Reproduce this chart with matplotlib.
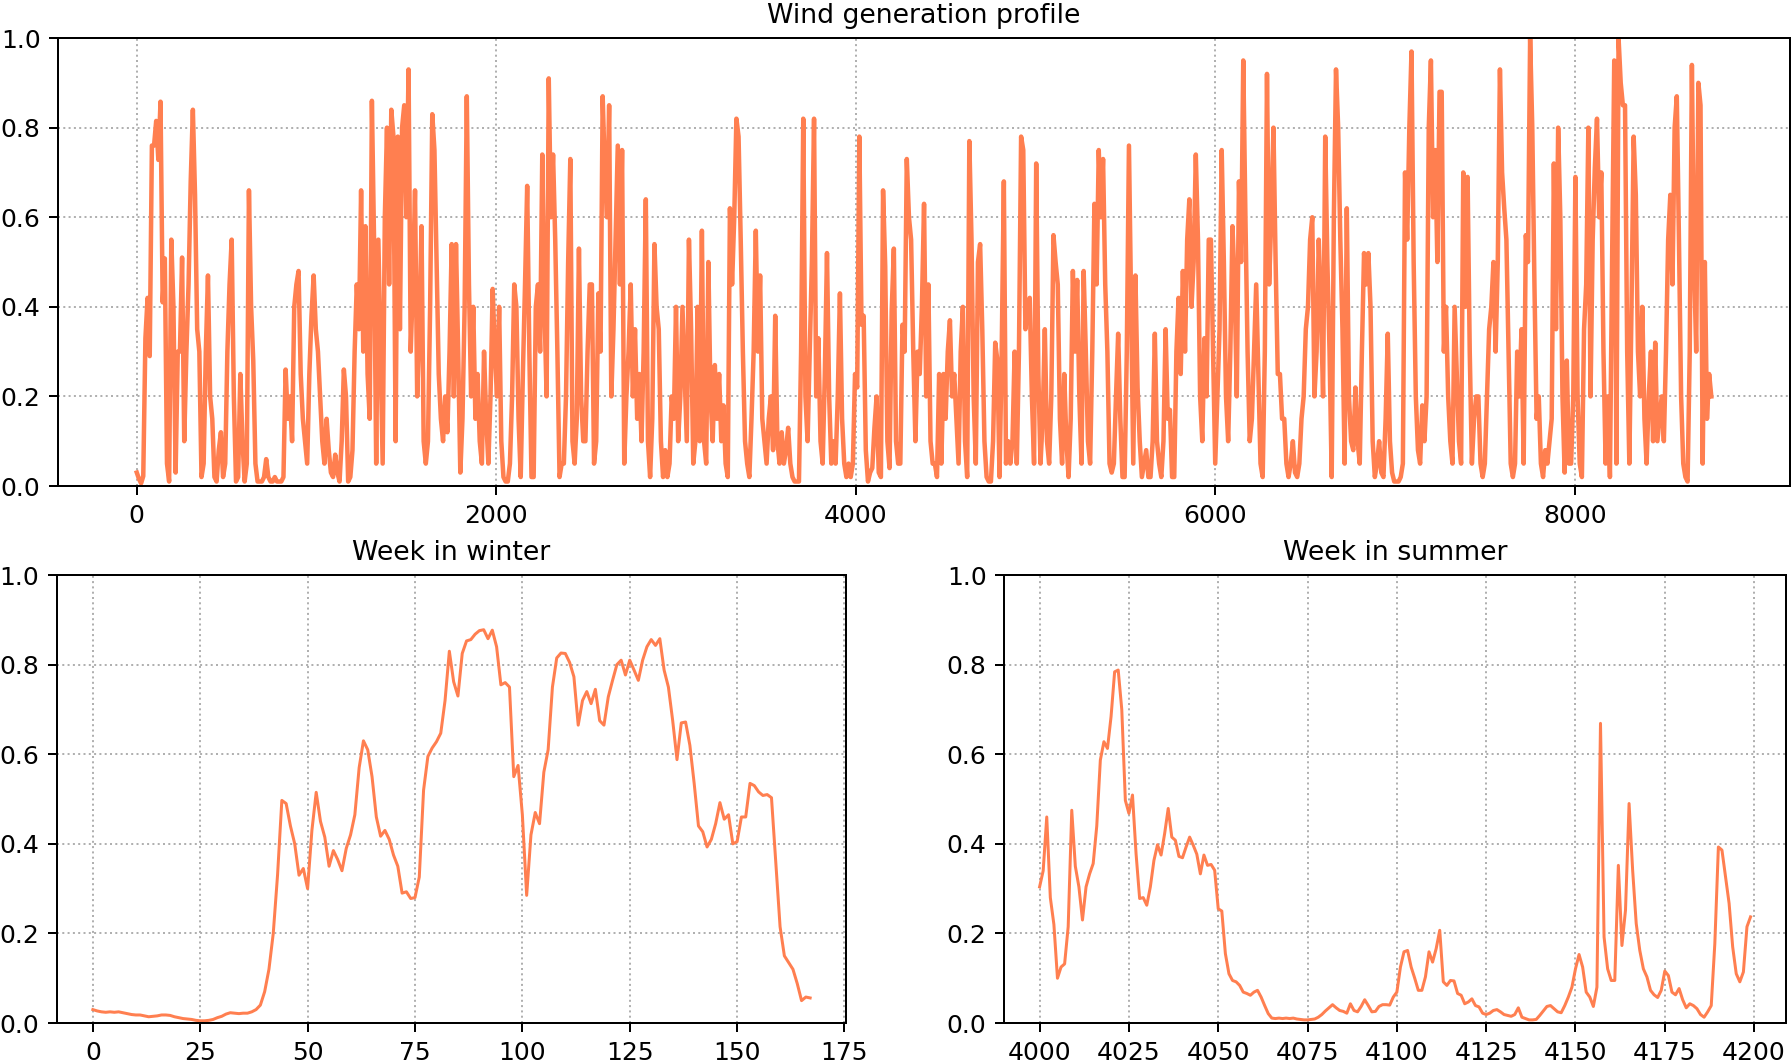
import numpy as np
import matplotlib
matplotlib.use('Agg')
import matplotlib.pyplot as plt

# yearly wind capacity factor, one value every 12 hours (0 ... 8760 h)
year_profile = [
    0.03, 0.016, 0.006, 0.022, 0.33, 0.42, 0.29, 0.76, 0.76, 0.815,
    0.728, 0.858, 0.41, 0.508, 0.05, 0.01, 0.55, 0.40, 0.03, 0.30,
    0.30, 0.51, 0.10, 0.30, 0.45, 0.68, 0.84, 0.65, 0.35, 0.30,
    0.02, 0.05, 0.30, 0.47, 0.20, 0.15, 0.02, 0.01, 0.08, 0.12,
    0.02, 0.05, 0.30, 0.45, 0.55, 0.20, 0.01, 0.02, 0.25, 0.10,
    0.01, 0.05, 0.66, 0.40, 0.28, 0.05, 0.01, 0.01, 0.01, 0.02,
    0.06, 0.02, 0.01, 0.01, 0.02, 0.01, 0.01, 0.01, 0.02, 0.26,
    0.15, 0.20, 0.10, 0.40, 0.45, 0.48, 0.25, 0.15, 0.10, 0.05,
    0.25, 0.38, 0.47, 0.35, 0.30, 0.20, 0.10, 0.05, 0.15, 0.08,
    0.03, 0.02, 0.07, 0.03, 0.01, 0.10, 0.26, 0.20, 0.01, 0.02,
    0.08, 0.30, 0.45, 0.35, 0.66, 0.30, 0.58, 0.25, 0.15, 0.86,
    0.55, 0.05, 0.55, 0.30, 0.05, 0.60, 0.80, 0.45, 0.84, 0.78,
    0.10, 0.78, 0.35, 0.80, 0.85, 0.60, 0.93, 0.30, 0.45, 0.66,
    0.20, 0.35, 0.58, 0.10, 0.05, 0.10, 0.40, 0.83, 0.75, 0.50,
    0.25, 0.15, 0.10, 0.20, 0.12, 0.30, 0.54, 0.20, 0.54, 0.30,
    0.03, 0.15, 0.40, 0.87, 0.45, 0.20, 0.40, 0.15, 0.25, 0.10,
    0.05, 0.30, 0.15, 0.05, 0.20, 0.44, 0.30, 0.20, 0.40, 0.10,
    0.02, 0.01, 0.01, 0.05, 0.20, 0.45, 0.40, 0.15, 0.02, 0.25,
    0.45, 0.67, 0.30, 0.02, 0.02, 0.40, 0.45, 0.30, 0.74, 0.40,
    0.20, 0.91, 0.60, 0.74, 0.55, 0.30, 0.02, 0.05, 0.05, 0.20,
    0.50, 0.73, 0.10, 0.05, 0.15, 0.53, 0.20, 0.10, 0.10, 0.30,
    0.45, 0.45, 0.05, 0.10, 0.43, 0.30, 0.87, 0.70, 0.60, 0.85,
    0.20, 0.35, 0.55, 0.76, 0.45, 0.75, 0.05, 0.20, 0.30, 0.45,
    0.20, 0.35, 0.15, 0.25, 0.10, 0.30, 0.64, 0.10, 0.02, 0.15,
    0.54, 0.40, 0.35, 0.10, 0.02, 0.08, 0.02, 0.05, 0.20, 0.15,
    0.40, 0.10, 0.20, 0.40, 0.25, 0.10, 0.55, 0.35, 0.05, 0.10,
    0.40, 0.10, 0.57, 0.10, 0.05, 0.50, 0.20, 0.10, 0.27, 0.15,
    0.25, 0.10, 0.18, 0.05, 0.02, 0.62, 0.45, 0.60, 0.82, 0.78,
    0.55, 0.30, 0.10, 0.05, 0.02, 0.15, 0.30, 0.57, 0.30, 0.47,
    0.15, 0.10, 0.05, 0.15, 0.20, 0.08, 0.38, 0.10, 0.05, 0.12,
    0.05, 0.08, 0.13, 0.05, 0.02, 0.01, 0.01, 0.01, 0.30, 0.82,
    0.20, 0.10, 0.30, 0.50, 0.82, 0.20, 0.33, 0.10, 0.05, 0.25,
    0.52, 0.20, 0.05, 0.10, 0.05, 0.20, 0.43, 0.15, 0.05, 0.02,
    0.05, 0.02, 0.05, 0.25, 0.22, 0.78, 0.36, 0.38, 0.08, 0.01,
    0.03, 0.04, 0.13, 0.20, 0.03, 0.02, 0.66, 0.49, 0.10, 0.04,
    0.39, 0.53, 0.10, 0.05, 0.05, 0.36, 0.30, 0.73, 0.60, 0.55,
    0.30, 0.10, 0.30, 0.25, 0.40, 0.63, 0.20, 0.45, 0.10, 0.05,
    0.05, 0.02, 0.25, 0.05, 0.25, 0.15, 0.30, 0.37, 0.20, 0.25,
    0.15, 0.05, 0.30, 0.40, 0.10, 0.02, 0.77, 0.55, 0.20, 0.05,
    0.50, 0.54, 0.35, 0.10, 0.02, 0.01, 0.01, 0.10, 0.32, 0.28,
    0.02, 0.30, 0.68, 0.05, 0.10, 0.05, 0.10, 0.30, 0.05, 0.30,
    0.78, 0.75, 0.35, 0.40, 0.42, 0.20, 0.05, 0.72, 0.25, 0.05,
    0.15, 0.35, 0.10, 0.05, 0.20, 0.56, 0.50, 0.45, 0.15, 0.05,
    0.25, 0.10, 0.02, 0.15, 0.48, 0.30, 0.46, 0.20, 0.05, 0.48,
    0.30, 0.10, 0.05, 0.30, 0.63, 0.45, 0.75, 0.60, 0.73, 0.45,
    0.30, 0.05, 0.03, 0.05, 0.20, 0.34, 0.15, 0.02, 0.02, 0.30,
    0.76, 0.40, 0.05, 0.47, 0.22, 0.10, 0.02, 0.05, 0.08, 0.02,
    0.02, 0.10, 0.34, 0.10, 0.05, 0.02, 0.10, 0.35, 0.15, 0.17,
    0.02, 0.02, 0.30, 0.42, 0.25, 0.48, 0.30, 0.55, 0.64, 0.40,
    0.50, 0.74, 0.55, 0.20, 0.10, 0.33, 0.20, 0.55, 0.55, 0.30,
    0.05, 0.20, 0.35, 0.75, 0.50, 0.20, 0.10, 0.30, 0.58, 0.45,
    0.20, 0.68, 0.50, 0.95, 0.60, 0.30, 0.10, 0.15, 0.30, 0.45,
    0.25, 0.05, 0.02, 0.30, 0.92, 0.45, 0.60, 0.80, 0.50, 0.25,
    0.25, 0.15, 0.15, 0.05, 0.02, 0.05, 0.10, 0.03, 0.02, 0.05,
    0.15, 0.20, 0.35, 0.40, 0.55, 0.60, 0.20, 0.30, 0.55, 0.40,
    0.20, 0.78, 0.50, 0.30, 0.02, 0.60, 0.93, 0.80, 0.55, 0.35,
    0.05, 0.62, 0.20, 0.10, 0.08, 0.22, 0.10, 0.05, 0.30, 0.52,
    0.45, 0.52, 0.40, 0.10, 0.02, 0.05, 0.10, 0.03, 0.02, 0.15,
    0.34, 0.10, 0.03, 0.01, 0.01, 0.01, 0.02, 0.05, 0.70, 0.55,
    0.80, 0.97, 0.50, 0.20, 0.08, 0.05, 0.18, 0.10, 0.20, 0.80,
    0.95, 0.60, 0.75, 0.50, 0.88, 0.88, 0.30, 0.40, 0.20, 0.10,
    0.05, 0.40, 0.25, 0.10, 0.05, 0.70, 0.40, 0.69, 0.30, 0.05,
    0.15, 0.20, 0.20, 0.05, 0.02, 0.05, 0.20, 0.35, 0.40, 0.50,
    0.30, 0.50, 0.93, 0.70, 0.62, 0.55, 0.30, 0.05, 0.02, 0.05,
    0.30, 0.20, 0.35, 0.05, 0.56, 0.50, 1.00, 0.80, 0.45, 0.15,
    0.20, 0.05, 0.02, 0.08, 0.05, 0.10, 0.15, 0.72, 0.35, 0.80,
    0.60, 0.20, 0.03, 0.28, 0.05, 0.05, 0.20, 0.69, 0.20, 0.05,
    0.02, 0.35, 0.45, 0.80, 0.20, 0.55, 0.71, 0.82, 0.60, 0.70,
    0.30, 0.05, 0.20, 0.02, 0.50, 0.95, 0.05, 1.00, 0.90, 0.85,
    0.85, 0.30, 0.05, 0.40, 0.78, 0.65, 0.30, 0.20, 0.40, 0.15,
    0.05, 0.20, 0.30, 0.10, 0.32, 0.10, 0.15, 0.20, 0.10, 0.30,
    0.55, 0.65, 0.45, 0.80, 0.87, 0.55, 0.20, 0.05, 0.02, 0.01,
    0.30, 0.94, 0.50, 0.30, 0.90, 0.85, 0.05, 0.50, 0.15, 0.25,
    0.20,
]
year_step = 12

# first week of the year, hourly
winter_start = 0
winter_week = [
    0.030, 0.027, 0.025, 0.024, 0.025, 0.024, 0.025, 0.023, 0.021, 0.019,
    0.018, 0.018, 0.016, 0.014, 0.015, 0.016, 0.018, 0.018, 0.017, 0.014,
    0.012, 0.010, 0.009, 0.008, 0.006, 0.005, 0.005, 0.006, 0.008, 0.012,
    0.015, 0.020, 0.023, 0.022, 0.021, 0.022, 0.022, 0.025, 0.030, 0.040,
    0.070, 0.120, 0.200, 0.330, 0.497, 0.490, 0.440, 0.400, 0.330, 0.345,
    0.300, 0.430, 0.515, 0.450, 0.415, 0.350, 0.385, 0.365, 0.340, 0.390,
    0.420, 0.465, 0.570, 0.630, 0.610, 0.550, 0.460, 0.417, 0.430, 0.410,
    0.375, 0.350, 0.290, 0.293, 0.278, 0.280, 0.326, 0.520, 0.595, 0.614,
    0.628, 0.647, 0.720, 0.830, 0.762, 0.730, 0.825, 0.853, 0.856, 0.868,
    0.876, 0.878, 0.858, 0.877, 0.840, 0.755, 0.760, 0.750, 0.550, 0.575,
    0.465, 0.285, 0.420, 0.470, 0.445, 0.560, 0.610, 0.750, 0.815, 0.826,
    0.825, 0.805, 0.773, 0.665, 0.720, 0.740, 0.713, 0.745, 0.675, 0.665,
    0.728, 0.765, 0.800, 0.810, 0.777, 0.810, 0.788, 0.765, 0.810, 0.840,
    0.856, 0.843, 0.858, 0.788, 0.750, 0.675, 0.588, 0.670, 0.672, 0.620,
    0.535, 0.440, 0.427, 0.393, 0.410, 0.445, 0.492, 0.455, 0.465, 0.400,
    0.405, 0.460, 0.460, 0.535, 0.530, 0.516, 0.508, 0.510, 0.503, 0.360,
    0.215, 0.150, 0.135, 0.120, 0.088, 0.050, 0.058, 0.056,
]

# summer stretch starting at hour 4000, hourly
summer_start = 4000
summer_week = [
    0.304, 0.340, 0.460, 0.280, 0.220, 0.100, 0.125, 0.132, 0.215, 0.475,
    0.350, 0.304, 0.230, 0.304, 0.333, 0.356, 0.440, 0.587, 0.628, 0.613,
    0.684, 0.784, 0.788, 0.700, 0.497, 0.468, 0.509, 0.378, 0.278, 0.280,
    0.263, 0.304, 0.363, 0.398, 0.375, 0.423, 0.479, 0.415, 0.408, 0.372,
    0.369, 0.393, 0.415, 0.397, 0.377, 0.333, 0.375, 0.352, 0.354, 0.341,
    0.255, 0.250, 0.155, 0.110, 0.095, 0.092, 0.084, 0.069, 0.066, 0.062,
    0.069, 0.073, 0.058, 0.039, 0.021, 0.011, 0.010, 0.011, 0.010, 0.011,
    0.010, 0.011, 0.009, 0.008, 0.007, 0.007, 0.008, 0.009, 0.013, 0.019,
    0.027, 0.034, 0.041, 0.034, 0.028, 0.026, 0.022, 0.043, 0.028, 0.025,
    0.037, 0.052, 0.039, 0.025, 0.026, 0.037, 0.041, 0.041, 0.040, 0.058,
    0.069, 0.125, 0.159, 0.162, 0.125, 0.100, 0.073, 0.073, 0.103, 0.159,
    0.136, 0.166, 0.207, 0.092, 0.084, 0.095, 0.094, 0.066, 0.062, 0.043,
    0.047, 0.054, 0.039, 0.036, 0.022, 0.019, 0.022, 0.028, 0.030, 0.025,
    0.019, 0.017, 0.015, 0.019, 0.034, 0.013, 0.010, 0.007, 0.007, 0.008,
    0.017, 0.027, 0.037, 0.039, 0.032, 0.025, 0.023, 0.039, 0.058, 0.080,
    0.121, 0.153, 0.125, 0.069, 0.058, 0.037, 0.080, 0.669, 0.192, 0.121,
    0.095, 0.095, 0.352, 0.173, 0.252, 0.490, 0.341, 0.222, 0.162, 0.121,
    0.103, 0.073, 0.063, 0.057, 0.073, 0.116, 0.106, 0.069, 0.063, 0.077,
    0.052, 0.034, 0.043, 0.039, 0.032, 0.019, 0.013, 0.025, 0.039, 0.177,
    0.393, 0.386, 0.326, 0.267, 0.170, 0.110, 0.092, 0.114, 0.215, 0.237,
]

color = 'coral'
DPI = 180

fig = plt.figure(figsize=(1792 / DPI, 1063 / DPI), dpi=DPI)
ax_year = fig.add_axes([0.0324, 0.5428, 0.9665, 0.4214])
ax_win = fig.add_axes([0.0318, 0.0376, 0.4403, 0.4214])
ax_sum = fig.add_axes([0.5603, 0.0376, 0.4364, 0.4214])

hours = np.arange(len(year_profile)) * year_step
ax_year.plot(hours, year_profile, color=color, lw=1.8)
ax_year.set_title('Wind generation profile', fontsize=10.7)

ax_win.plot(winter_start + np.arange(len(winter_week)), winter_week, color=color, lw=1.2)
ax_win.set_title('Week in winter', fontsize=10.7)

ax_sum.plot(summer_start + np.arange(len(summer_week)), summer_week, color=color, lw=1.2)
ax_sum.set_title('Week in summer', fontsize=10.7)

for ax in (ax_year, ax_win, ax_sum):
    ax.set_ylim(0, 1)
    ax.set_yticks(np.arange(0, 1.01, 0.2))
    ax.grid(True, linestyle=':')
    ax.tick_params(labelsize=10)

ax_win.set_xticks(np.arange(0, 176, 25))
ax_sum.set_xticks(np.arange(4000, 4201, 25))

fig.savefig('out.png', dpi=DPI)
